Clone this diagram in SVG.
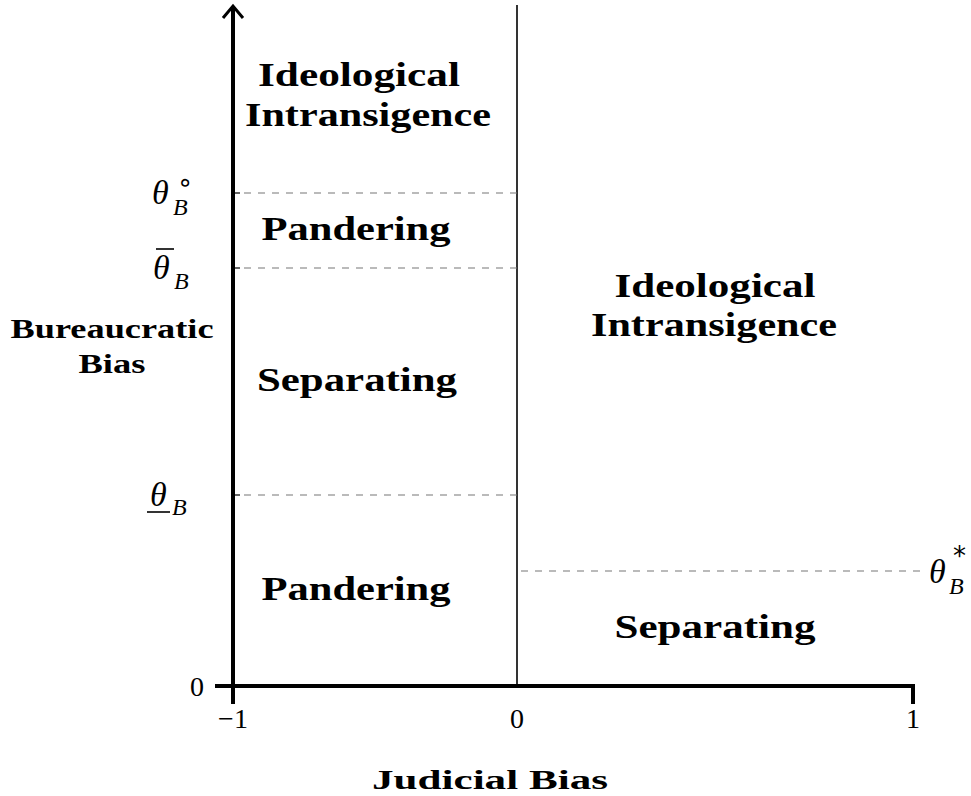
<svg xmlns="http://www.w3.org/2000/svg" width="971" height="796" viewBox="0 0 971 796">
<style>
.reg{font-family:"Liberation Serif",serif;font-weight:bold;font-size:34px;text-anchor:middle;fill:#000}
.lab{font-family:"Liberation Serif",serif;font-weight:bold;font-size:27px;text-anchor:middle;fill:#000}
.num{font-family:"Liberation Serif",serif;font-size:28px;text-anchor:middle;fill:#000}
.th{font-family:"Liberation Serif",serif;font-style:italic;font-size:34px;fill:#000}
.sub{font-family:"Liberation Serif",serif;font-style:italic;font-size:24px;fill:#000}
.sup{font-family:"DejaVu Sans",sans-serif;font-size:26px;fill:#000}
.dash{stroke:#777;stroke-width:1.2;stroke-dasharray:7,7;fill:none}
</style>
<rect width="971" height="796" fill="#fff"/>
<g id="connectors">
<line x1="233" y1="8" x2="233" y2="704" stroke="#000" stroke-width="4"/>
<polyline points="223,18 233,6 243,18" fill="none" stroke="#000" stroke-width="3"/>
<line x1="215" y1="686" x2="915" y2="686" stroke="#000" stroke-width="4"/>
<line x1="913" y1="684" x2="913" y2="704" stroke="#000" stroke-width="4"/>
<line x1="517" y1="5" x2="517" y2="686" stroke="#000" stroke-width="1.6"/>
<line x1="233" y1="193" x2="240" y2="193" stroke="#000" stroke-width="1.2"/>
<line x1="233" y1="268" x2="240" y2="268" stroke="#000" stroke-width="1.2"/>
<line x1="233" y1="495" x2="240" y2="495" stroke="#000" stroke-width="1.2"/>
<line class="dash" x1="244" y1="193" x2="517" y2="193"/>
<line class="dash" x1="244" y1="268" x2="517" y2="268"/>
<line class="dash" x1="244" y1="495" x2="517" y2="495"/>
<line class="dash" x1="521" y1="571" x2="922" y2="571"/>
</g>
<g id="region-left-top">
<text class="reg" x="359" y="86" textLength="202" lengthAdjust="spacingAndGlyphs">Ideological</text>
<text class="reg" x="368" y="126" textLength="246" lengthAdjust="spacingAndGlyphs">Intransigence</text>
</g>
<g id="region-left-pandering-top"><text class="reg" x="356" y="240" textLength="189" lengthAdjust="spacingAndGlyphs">Pandering</text></g>
<g id="region-left-separating"><text class="reg" x="357" y="391" textLength="200" lengthAdjust="spacingAndGlyphs">Separating</text></g>
<g id="region-left-pandering-bottom"><text class="reg" x="356" y="600" textLength="189" lengthAdjust="spacingAndGlyphs">Pandering</text></g>
<g id="region-right-top">
<text class="reg" x="715" y="297" textLength="201" lengthAdjust="spacingAndGlyphs">Ideological</text>
<text class="reg" x="714" y="336" textLength="246" lengthAdjust="spacingAndGlyphs">Intransigence</text>
</g>
<g id="region-right-bottom"><text class="reg" x="715" y="638" textLength="201" lengthAdjust="spacingAndGlyphs">Separating</text></g>
<g id="axis-labels">
<text class="lab" x="112" y="338" textLength="203" lengthAdjust="spacingAndGlyphs">Bureaucratic</text>
<text class="lab" x="112" y="373" textLength="67" lengthAdjust="spacingAndGlyphs">Bias</text>
<text class="lab" x="490" y="789" textLength="236" lengthAdjust="spacingAndGlyphs">Judicial Bias</text>
</g>
<g id="tick-labels">
<text class="num" x="197" y="696">0</text>
<text class="num" x="233" y="728">−1</text>
<text class="num" x="517" y="728">0</text>
<text class="num" x="913" y="728">1</text>
</g>
<g id="theta-labels">
<text class="th" x="152" y="204">θ</text><text class="sup" x="177" y="191">∘</text><text class="sub" x="173" y="215">B</text>
<text class="th" x="153" y="279">θ</text><line x1="156" y1="249" x2="174" y2="249" stroke="#000" stroke-width="1.6"/><text class="sub" x="174" y="289">B</text>
<text class="th" x="150" y="506">θ</text><line x1="147" y1="512" x2="170" y2="512" stroke="#000" stroke-width="1.6"/><text class="sub" x="172" y="515">B</text>
<text class="th" x="929" y="583">θ</text><text class="sup" x="953" y="565" font-size="22">*</text><text class="sub" x="949" y="594">B</text>
</g>
</svg>
